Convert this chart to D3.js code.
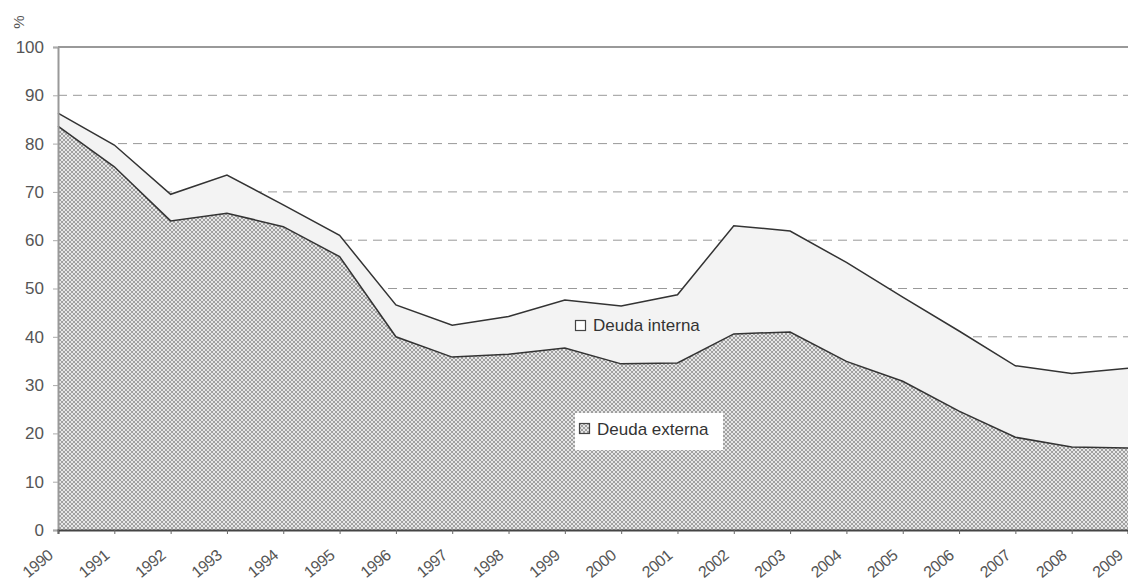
<!DOCTYPE html>
<html><head><meta charset="utf-8">
<script src="https://cdn.jsdelivr.net/npm/d3@7"></script>
<style>
html,body{margin:0;padding:0;background:#fff;}
svg{display:block;font-family:"Liberation Sans",Arial,sans-serif;}
</style></head>
<body>
<svg id="c" width="1128" height="585"></svg>
<script>
const years = ["1990","1991","1992","1993","1994","1995","1996","1997","1998","1999","2000","2001","2002","2003","2004","2005","2006","2007","2008","2009"];
const deudaExterna = [83.6,75.2,64.0,65.6,62.8,56.6,40.0,35.8,36.4,37.7,34.4,34.6,40.6,41.0,34.9,30.8,24.6,19.2,17.2,17.0];
const deudaInterna = [2.7,4.5,5.5,7.9,4.5,4.4,6.6,6.6,7.8,9.9,12.0,14.1,22.4,20.9,20.5,17.4,16.6,14.8,15.2,16.5];
const yTicks = [0,10,20,30,40,50,60,70,80,90,100];
const seriesNames = ["Deuda externa","Deuda interna"];

(function(){
const svg = d3.select("#c");
const mLeft = 58, mRight = 1128, mTop = 47, mBottom = 530;
const x = d3.scalePoint().domain(years).range([mLeft, mRight]);
const y = d3.scaleLinear().domain([0,100]).range([mBottom, mTop]);

const defs = svg.append("defs");
const pat = defs.append("pattern").attr("id","hatch").attr("patternUnits","userSpaceOnUse")
  .attr("width",4).attr("height",4);
pat.append("rect").attr("width",4).attr("height",4).attr("fill","#e6e6e6");
[[0,0],[1,1],[2,2],[3,3],[3,0],[2,1],[1,2],[0,3]].forEach(([a,b])=>{
  pat.append("rect").attr("x",a).attr("y",b).attr("width",1).attr("height",1).attr("fill","#a0a0a0");
});

const rows = years.map((yr,i)=>({year:yr, ext:deudaExterna[i], int:deudaInterna[i]}));
const layers = d3.stack().keys(["ext","int"])(rows);

svg.append("g").selectAll("line").data(yTicks.filter(t=>t>0 && t<100)).join("line")
  .attr("x1",mLeft).attr("x2",mRight).attr("y1",d=>y(d)).attr("y2",d=>y(d))
  .attr("stroke","#999").attr("stroke-width",1).attr("stroke-dasharray","9,6");

const area = d3.area().x(d=>x(d.data.year)).y0(d=>y(d[0])).y1(d=>y(d[1]));
const line = d3.line().x(d=>x(d.data.year)).y(d=>y(d[1]));

svg.append("path").datum(layers[1]).attr("d",area).attr("fill","#f3f3f3");
svg.append("path").datum(layers[0]).attr("d",area).attr("fill","url(#hatch)");
svg.append("path").datum(layers[1]).attr("d",line).attr("fill","none").attr("stroke","#333").attr("stroke-width",1.5);
svg.append("path").datum(layers[0]).attr("d",line).attr("fill","none").attr("stroke","#333").attr("stroke-width",1.5);

svg.append("line").attr("x1",mLeft).attr("x2",mRight).attr("y1",y(100)).attr("y2",y(100))
  .attr("stroke","#999").attr("stroke-width",2);

const gy = svg.append("g").attr("transform",`translate(${mLeft},0)`)
  .call(d3.axisLeft(y).tickValues(yTicks).tickSize(5).tickPadding(9));
gy.select(".domain").attr("stroke","#999").attr("stroke-width",2);
gy.selectAll(".tick line").attr("stroke","#aaa");
gy.selectAll("text").attr("font-size",17).attr("fill","#555").attr("font-family","Liberation Sans, Arial, sans-serif");

const gx = svg.append("g").attr("transform",`translate(0,${mBottom})`)
  .call(d3.axisBottom(x).tickSize(4).tickFormat(()=>""));
gx.select(".domain").attr("stroke","#444").attr("stroke-width",2);
gx.selectAll(".tick line").attr("stroke","#666");
svg.append("g").selectAll("text").data(years).join("text")
  .attr("transform",d=>`translate(${x(d)-4},${mBottom+27}) rotate(-40)`)
  .attr("text-anchor","end").attr("font-size",16).attr("letter-spacing",-0.5).attr("fill","#555").text(d=>d);

svg.append("text").attr("transform","translate(24,22) rotate(-90)").attr("text-anchor","middle")
  .attr("font-size",15).attr("fill","#555").text("%");

const gi = svg.append("g");
gi.append("rect").attr("x",575.5).attr("y",320.5).attr("width",10).attr("height",10)
  .attr("fill","#fff").attr("stroke","#444").attr("stroke-width",1.2);
gi.append("text").attr("x",593).attr("y",331).attr("font-size",17).attr("fill","#333").text(seriesNames[1]);

const ge = svg.append("g");
ge.append("rect").attr("x",575).attr("y",413).attr("width",148).attr("height",37).attr("fill","#fff");
ge.append("rect").attr("x",579.5).attr("y",423.5).attr("width",10).attr("height",10)
  .attr("fill","url(#hatch)").attr("stroke","#444").attr("stroke-width",1.2);
ge.append("text").attr("x",597).attr("y",435).attr("font-size",17).attr("fill","#333").text(seriesNames[0]);
})();
</script>
</body></html>
